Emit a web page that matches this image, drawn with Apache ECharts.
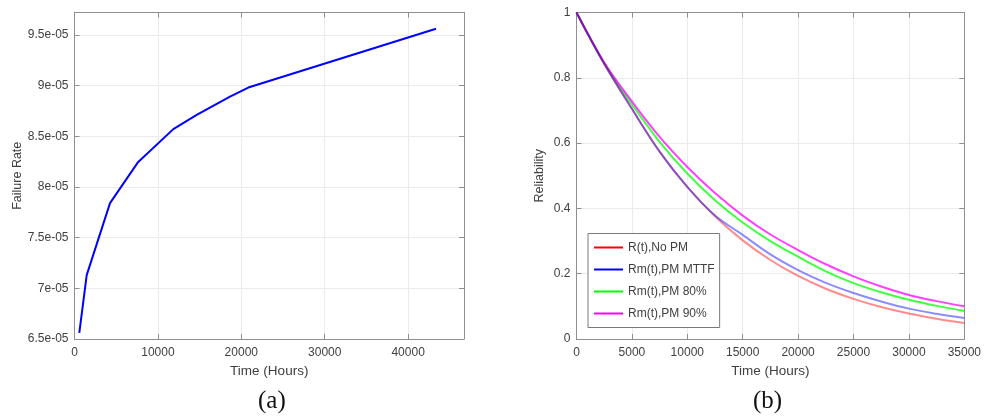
<!DOCTYPE html>
<html>
<head>
<meta charset="utf-8">
<script src="https://cdn.jsdelivr.net/npm/echarts@6/dist/echarts.min.js"></script>
<style>
html,body{margin:0;padding:0;background:#fff;}
#c{width:984px;height:419px;}
</style>
</head>
<body>
<div id="c"></div>
<script>
// ---- Data: chart (a) failure rate ----
var timeA = [576, 1463, 4257, 7578, 11847, 14652, 18645, 20840, 43345];
var rateA = [6.56e-5, 7.13e-5, 7.84e-5, 8.24e-5, 8.57e-5, 8.71e-5, 8.89e-5, 8.98e-5, 9.56e-5];

// ---- Data: chart (b) reliability ----
var timeB = [0, 2500, 5000, 7500, 10000, 12500, 15000, 17500, 20000, 22500, 25000, 27500, 30000, 32500, 35000];
var relNoPM   = [1, 0.843, 0.705, 0.574, 0.466, 0.376, 0.302, 0.242, 0.193, 0.154, 0.123, 0.098, 0.078, 0.062, 0.049];
var relMTTF   = [1, 0.843, 0.705, 0.574, 0.466, 0.378, 0.319, 0.259, 0.211, 0.172, 0.141, 0.115, 0.093, 0.077, 0.064];
var relPM80   = [1, 0.845, 0.719, 0.604, 0.507, 0.425, 0.357, 0.300, 0.252, 0.207, 0.171, 0.143, 0.120, 0.1015, 0.086];
var relPM90   = [1, 0.847, 0.728, 0.619, 0.527, 0.447, 0.378, 0.320, 0.2725, 0.229, 0.192, 0.161, 0.135, 0.116, 0.100];
var seriesNames = ['R(t),No PM', 'Rm(t),PM MTTF', 'Rm(t),PM 80%', 'Rm(t),PM 90%'];
var seriesColors = ['#ff0000', '#0000ff', '#00ff00', '#ff00ff'];

// ---- Axis names / panel labels ----
var xNameA = 'Time (Hours)';
var xNameB = 'Time (Hours)';
var yNameA = 'Failure Rate';
var yNameB = 'Reliability';
var panelLabels = ['(a)', '(b)'];

function pairs(xs, ys) { return xs.map(function (x, i) { return [x, ys[i]]; }); }
function expFmt(v) {
  var s = parseFloat(v.toPrecision(4)).toExponential();
  return s.replace(/e-(\d)$/, 'e-0$1').replace(/e\+(\d)$/, 'e+0$1');
}
function plainFmt(v) { return String(parseFloat(v.toPrecision(6))); }

var FONT = 'Liberation Sans, Arial, sans-serif';
var axisCol = '#8f8f8f';
var txtCol = '#404040';
var gridCol = '#ebebeb';

function mainAxis(extra) {
  var base = {
    axisLine: { show: true, onZero: false, lineStyle: { color: axisCol, width: 1 } },
    axisTick: { show: true, inside: true, length: 5, lineStyle: { color: axisCol } },
    axisLabel: { color: txtCol, fontFamily: FONT, fontSize: 12 },
    splitLine: { show: true, lineStyle: { color: gridCol, width: 1 } },
    nameTextStyle: { color: txtCol, fontFamily: FONT }
  };
  return Object.assign(base, extra);
}
function mirrorAxis(extra) {
  var base = {
    axisLine: { show: true, onZero: false, lineStyle: { color: axisCol, width: 1 } },
    axisTick: { show: true, inside: true, length: 5, lineStyle: { color: axisCol } },
    axisLabel: { show: false },
    splitLine: { show: false }
  };
  return Object.assign(base, extra);
}

var xA = { type: 'value', min: 0, max: 46700, interval: 10000 };
var yA = { type: 'value', min: 6.5e-5, max: 9.72e-5, interval: 0.5e-5 };
var xB = { type: 'value', min: 0, max: 35000, interval: 5000 };
var yB = { type: 'value', min: 0, max: 1, interval: 0.2 };

var option = {
  animation: false,
  backgroundColor: '#ffffff',
  grid: [
    { left: 74.5, right: 520, top: 12.5, bottom: 80 },
    { left: 576.5, right: 18, top: 12.5, bottom: 80 }
  ],
  xAxis: [
    mainAxis(Object.assign({}, xA, {
      gridIndex: 0, position: 'bottom',
      name: xNameA, nameLocation: 'middle', nameGap: 23,
      nameTextStyle: { color: txtCol, fontFamily: FONT, fontSize: 13.5 },
      axisLabel: { color: txtCol, fontFamily: FONT, fontSize: 12, margin: 8, showMaxLabel: false, formatter: plainFmt }
    })),
    mirrorAxis(Object.assign({}, xA, { gridIndex: 0, position: 'top' })),
    mainAxis(Object.assign({}, xB, {
      gridIndex: 1, position: 'bottom',
      name: xNameB, nameLocation: 'middle', nameGap: 23,
      nameTextStyle: { color: txtCol, fontFamily: FONT, fontSize: 13.5 },
      axisLabel: { color: txtCol, fontFamily: FONT, fontSize: 12, margin: 8, formatter: plainFmt }
    })),
    mirrorAxis(Object.assign({}, xB, { gridIndex: 1, position: 'top' }))
  ],
  yAxis: [
    mainAxis(Object.assign({}, yA, {
      gridIndex: 0, position: 'left',
      name: yNameA, nameLocation: 'middle', nameGap: 49,
      nameTextStyle: { color: txtCol, fontFamily: FONT, fontSize: 12.5 },
      axisLabel: { color: txtCol, fontFamily: FONT, fontSize: 12, margin: 6, showMaxLabel: false, formatter: expFmt }
    })),
    mirrorAxis(Object.assign({}, yA, { gridIndex: 0, position: 'right' })),
    mainAxis(Object.assign({}, yB, {
      gridIndex: 1, position: 'left',
      name: yNameB, nameLocation: 'middle', nameGap: 30,
      nameTextStyle: { color: txtCol, fontFamily: FONT, fontSize: 12.5 },
      axisLabel: { color: txtCol, fontFamily: FONT, fontSize: 12, margin: 6, formatter: plainFmt }
    })),
    mirrorAxis(Object.assign({}, yB, { gridIndex: 1, position: 'right' }))
  ],
  legend: {
    orient: 'vertical',
    left: 588, top: 233.5,
    padding: [8, 5, 8, 6],
    itemGap: 10,
    itemWidth: 29, itemHeight: 2,
    borderColor: '#7a7a7a', borderWidth: 1,
    backgroundColor: '#ffffff',
    textStyle: { color: txtCol, fontFamily: FONT, fontSize: 12 },
    data: seriesNames.map(function (n, i) {
      return { name: n, icon: 'rect', itemStyle: { color: seriesColors[i], opacity: 1 } };
    })
  },
  series: [
    {
      type: 'line', xAxisIndex: 0, yAxisIndex: 0, showSymbol: false, symbol: 'none',
      data: pairs(timeA, rateA), lineStyle: { color: '#0000ff', width: 2 }, itemStyle: { color: '#0000ff' }
    },
    {
      name: seriesNames[2], type: 'line', xAxisIndex: 2, yAxisIndex: 2, symbol: 'none', smooth: 0.35,
      data: pairs(timeB, relPM80), lineStyle: { color: seriesColors[2], width: 2, opacity: 0.75 }, itemStyle: { color: seriesColors[2] }, z: 2
    },
    {
      name: seriesNames[3], type: 'line', xAxisIndex: 2, yAxisIndex: 2, symbol: 'none', smooth: 0.35,
      data: pairs(timeB, relPM90), lineStyle: { color: seriesColors[3], width: 2, opacity: 0.75 }, itemStyle: { color: seriesColors[3] }, z: 2
    },
    {
      name: seriesNames[0], type: 'line', xAxisIndex: 2, yAxisIndex: 2, symbol: 'none', smooth: 0.35,
      data: pairs(timeB, relNoPM), lineStyle: { color: seriesColors[0], width: 2, opacity: 0.45 }, itemStyle: { color: seriesColors[0] }, z: 3
    },
    {
      name: seriesNames[1], type: 'line', xAxisIndex: 2, yAxisIndex: 2, symbol: 'none', smooth: 0.35,
      data: pairs(timeB, relMTTF), lineStyle: { color: seriesColors[1], width: 2, opacity: 0.45 }, itemStyle: { color: seriesColors[1] }, z: 3
    }
  ],
  graphic: [
    { type: 'text', left: 258, top: 389, style: { text: panelLabels[0], fontFamily: 'Liberation Serif, serif', fontSize: 25, fill: '#111' } },
    { type: 'text', left: 753, top: 389, style: { text: panelLabels[1], fontFamily: 'Liberation Serif, serif', fontSize: 25, fill: '#111' } }
  ]
};

var chart = echarts.init(document.getElementById('c'), null, { renderer: 'canvas' });
chart.setOption(option);
</script>
</body>
</html>
